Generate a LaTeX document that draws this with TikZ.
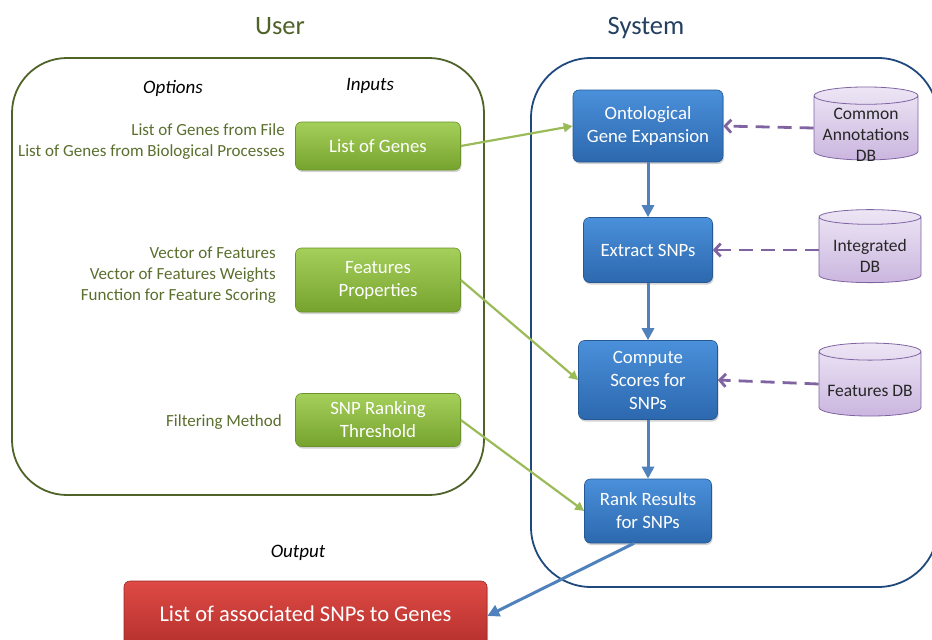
\documentclass[tikz,border=0pt]{standalone}
\usepackage{fontspec}
\setmainfont{Carlito}
\usetikzlibrary{arrows.meta,shapes.geometric,shadows}
\definecolor{olivetxt}{HTML}{5A6F2E}
\definecolor{olivebox}{HTML}{4F6228}
\definecolor{navy}{HTML}{1F497D}
\definecolor{systxt}{HTML}{243F60}
\definecolor{gtop}{HTML}{A4CF5A}
\definecolor{gbot}{HTML}{76A32E}
\definecolor{gline}{HTML}{9BBB59}
\definecolor{btop}{HTML}{4A90DA}
\definecolor{bbot}{HTML}{2C68AE}
\definecolor{bline}{HTML}{4F81BD}
\definecolor{ptop}{HTML}{EDE6F5}
\definecolor{pbot}{HTML}{CBB6DF}
\definecolor{pline}{HTML}{8064A2}
\definecolor{rtop}{HTML}{DE4A45}
\definecolor{rbot}{HTML}{B5302C}
\newcommand\dbtext[1]{\raisebox{-12.5pt}[0pt][0pt]{\begin{tabular}{@{}c@{}}#1\end{tabular}}}
\tikzset{
  x=1pt, y=-1pt,
  title/.style={font=\fontsize{26.5}{30}\selectfont, text=#1, anchor=base},
  region/.style 2 args={draw=#1, line width=1.8pt, rounded corners=#2},
  hint/.style={font=\itshape\fontsize{19}{22}\selectfont},
  opt/.style={font=\fontsize{17}{21}\selectfont, text=olivetxt, align=right, anchor=east, inner sep=0pt},
  gbox/.style={rounded corners=6pt, top color=gtop, bottom color=gbot, draw=gbot!90!black, line width=0.6pt,
     text=white, font=\fontsize{18.8}{23}\selectfont, align=center, minimum width=165pt,
     drop shadow={opacity=0.35, shadow xshift=1pt, shadow yshift=-2pt}},
  bbox/.style={rounded corners=6pt, top color=btop, bottom color=bbot, draw=bbot!85!black, line width=0.6pt,
     text=white, font=\fontsize{18.8}{23}\selectfont, align=center,
     drop shadow={opacity=0.35, shadow xshift=1pt, shadow yshift=-2pt}},
  db/.style={cylinder, shape border rotate=90, aspect=0.2, draw=pline, line width=0.8pt,
     top color=ptop, bottom color=pbot, font=\fontsize{17.5}{21}\selectfont, text=black!85,
     minimum width=102pt, minimum height=73pt, inner sep=0pt},
  garrow/.style={draw=gline, line width=2.2pt, -{Triangle[length=9pt,width=9pt]}},
  barrow/.style={draw=bline, line width=3pt, -{Triangle[length=12pt,width=12pt]}},
  parrow/.style={draw=pline, line width=2.8pt, dash pattern=on 14pt off 8pt, -{Straight Barb[length=6pt,width=13pt]}},
}
\begin{document}
\begin{tikzpicture}
\useasboundingbox (0,0) rectangle (932,640);
\begin{scope}
\clip (0,0) rectangle (932,640);
% titles
\node[title=olivebox] (tuser) at (280,34) {User};
\node[title=systxt] (tsys) at (646,34) {System};
% regions
\draw[region={olivebox}{55pt}] (12,58) rectangle (484,495);
\draw[region={navy}{60pt}] (531,58) rectangle (938,587);
% hints
\node[hint] (hopt) at (173,88) {Options};
\node[hint] (hin) at (370,86) {Inputs};
\node[hint] (hout) at (298,553) {Output};
% options
\node[opt] (o1) at (285,142) {List of Genes from File\\List of Genes from Biological Processes};
\node[opt] (o2) at (276,275) {Vector of Features\\Vector of Features Weights\\Function for Feature Scoring};
\node[opt] (o3) at (282,422) {Filtering Method};
% inputs
\node[gbox, minimum height=48pt] (g1) at (378,146) {List of Genes};
\node[gbox, minimum height=64pt] (g2) at (378,280) {Features\\Properties};
\node[gbox, minimum height=53pt] (g3) at (378,420) {SNP Ranking\\Threshold};
% system
\node[bbox, minimum width=150pt, minimum height=72pt] (b1) at (648,126) {Ontological\\Gene Expansion};
\node[bbox, minimum width=129pt, minimum height=65pt] (b2) at (648,250) {Extract SNPs};
\node[bbox, minimum width=139pt, minimum height=79pt] (b3) at (648,380) {Compute\\Scores for\\SNPs};
\node[bbox, minimum width=127pt, minimum height=64pt] (b4) at (648,511) {Rank Results\\for SNPs};
% databases
\node[db, minimum width=104pt] (d1) at (866,128) {\dbtext{Common\\Annotations\\DB}};
\node[db] (d2) at (870,250) {\dbtext{Integrated\\DB}};
\node[db] (d3) at (870,384) {\dbtext{Features DB}};
% output
\node[rounded corners=6pt, top color=rtop, bottom color=rbot, draw=rbot!85!black, line width=0.6pt,
      text=white, font=\fontsize{22.5}{26}\selectfont, minimum width=363pt, minimum height=66pt,
      drop shadow={opacity=0.35, shadow xshift=1pt, shadow yshift=-2pt}] (out) at (305.5,614) {List of associated SNPs to Genes};
% connectors
\draw[garrow] (g1.east) -- (b1.west);
\draw[garrow] (g2.east) -- (b3.west);
\draw[garrow] (g3.east) -- (b4.west);
\draw[barrow] (b1) -- (b2);
\draw[barrow] (b2) -- (b3);
\draw[barrow] (b3) -- (b4);
\draw[barrow] (b4.south) ++(-14,0) coordinate (b4s) -- ([yshift=-2pt]out.east);
\draw[parrow] (d1.west) -- (b1.east);
\draw[parrow] (d2.west) -- (b2.east);
\draw[parrow] (d3.west) -- (b3.east);
\end{scope}
\end{tikzpicture}
\end{document}
